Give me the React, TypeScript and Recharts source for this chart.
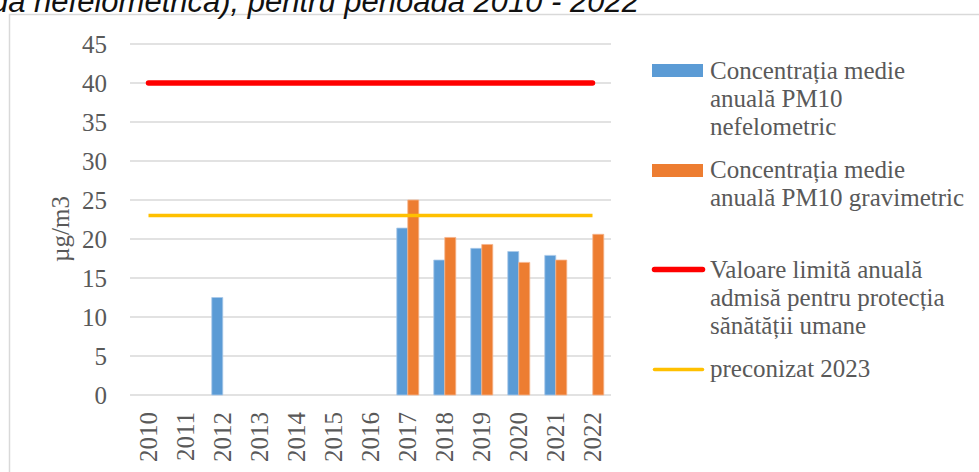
import React from 'react';
import { ComposedChart, Bar, Line, XAxis, YAxis, CartesianGrid } from 'recharts';

const years = ['2010', '2011', '2012', '2013', '2014', '2015', '2016', '2017', '2018', '2019', '2020', '2021', '2022'];
const nefelometric = [null, null, 12.5, null, null, null, null, 21.4, 17.3, 18.8, 18.4, 17.9, null];
const gravimetric = [null, null, null, null, null, null, null, 25.0, 20.2, 19.3, 17.0, 17.3, 20.6];
const limitValue = [40, 40, 40, 40, 40, 40, 40, 40, 40, 40, 40, 40, 40];
const forecast2023 = [23, 23, 23, 23, 23, 23, 23, 23, 23, 23, 23, 23, 23];
const yTicks = [0, 5, 10, 15, 20, 25, 30, 35, 40, 45];

const seriesNames = [
  'Concentrația medie anuală PM10 nefelometric',
  'Concentrația medie anuală PM10 gravimetric',
  'Valoare limită anuală admisă pentru protecția sănătății umane',
  'preconizat 2023',
];
const legendLines = [
  ['Concentrația medie', 'anuală PM10', 'nefelometric'],
  ['Concentrația medie', 'anuală PM10 gravimetric'],
  ['Valoare limită anuală', 'admisă pentru protecția', 'sănătății umane'],
  ['preconizat 2023'],
];
const yAxisTitle = 'µg/m3';
const titleText = 'metoda nefelometrică), pentru perioada 2010 - 2022';

const COLORS = { blue: '#5B9BD5', orange: '#ED7D31', red: '#FF0000', yellow: '#FFC000' };
const TEXT = '#595959';
const FONT = '"Liberation Serif", serif';

const data = years.map((year, i) => ({
  year,
  nef: nefelometric[i],
  grav: gravimetric[i],
  limit: limitValue[i],
  prec: forecast2023[i],
}));

const XTick = (props: any) => {
  const { x, y, payload } = props;
  return (
    <text
      x={x}
      y={y}
      transform={`rotate(-90 ${x} ${y})`}
      textAnchor="end"
      dominantBaseline="central"
      fill={TEXT}
      fontSize={25}
      fontFamily={FONT}
    >
      {payload.value}
    </text>
  );
};

const Legend = () => {
  const items = [
    { kind: 'rect', color: COLORS.blue, top: 64, base: 79 },
    { kind: 'rect', color: COLORS.orange, top: 164, base: 177.5 },
    { kind: 'line', color: COLORS.red, top: 269.5, base: 277.5, w: 5.5 },
    { kind: 'line', color: COLORS.yellow, top: 369.5, base: 376.5, w: 3.5 },
  ];
  return (
    <svg width={979} height={472} style={{ position: 'absolute', left: 0, top: 0, pointerEvents: 'none' }}>
      {items.map((it, i) => (
        <g key={seriesNames[i]}>
          {it.kind === 'rect' ? (
            <rect x={652} y={it.top} width={51} height={13} fill={it.color} />
          ) : (
            <line x1={654.5} x2={702.5} y1={it.top} y2={it.top} stroke={it.color} strokeWidth={it.w} strokeLinecap="round" />
          )}
          <text fill={TEXT} fontSize={25} fontFamily={FONT}>
            {legendLines[i].map((ln, j) => (
              <tspan key={j} x={710} y={it.base + j * 28}>
                {ln}
              </tspan>
            ))}
          </text>
        </g>
      ))}
    </svg>
  );
};

export default function App() {
  return (
    <div style={{ position: 'fixed', left: 0, top: 0, width: 979, height: 472, overflow: 'hidden', background: '#fff' }}>
      <svg width={979} height={472} style={{ position: 'absolute', left: 0, top: 0 }}>
        <rect x={9.5} y={14.5} width={1000} height={1000} fill="none" stroke="#D9D9D9" strokeWidth={1.5} />
        <text
          x={639}
          y={12}
          textAnchor="end"
          fontFamily='"Liberation Sans", Arial, sans-serif'
          fontStyle="italic"
          fontSize={31}
          fill="#111"
        >
          {titleText}
        </text>
        <text
          x={69}
          y={229}
          transform="rotate(-90 69 229)"
          textAnchor="middle"
          fill={TEXT}
          fontSize={25}
          fontFamily={FONT}
        >
          {yAxisTitle}
        </text>
      </svg>
      <div style={{ position: 'absolute', left: 0, top: 0 }}>
        <ComposedChart
          width={979}
          height={472}
          data={data}
          margin={{ top: 44, right: 368, bottom: 0, left: 0 }}
          barCategoryGap="21%"
          barGap={0}
        >
          <CartesianGrid vertical={false} stroke="#D9D9D9" strokeWidth={1.5} />
          <XAxis
            dataKey="year"
            height={77}
            axisLine={false}
            tickLine={false}
            tickSize={0}
            tickMargin={17}
            interval={0}
            tick={<XTick />}
          />
          <YAxis
            width={130}
            domain={[0, 45]}
            ticks={yTicks}
            axisLine={false}
            tickLine={false}
            tickSize={0}
            tickMargin={23}
            tick={{ fill: TEXT, fontSize: 25, fontFamily: FONT }}
          />
          <Bar dataKey="nef" name={seriesNames[0]} fill={COLORS.blue} stroke="#A9C9EA" strokeWidth={0.8} isAnimationActive={false} />
          <Bar dataKey="grav" name={seriesNames[1]} fill={COLORS.orange} stroke="#F6B48C" strokeWidth={0.8} isAnimationActive={false} />
          <Line
            dataKey="limit"
            name={seriesNames[2]}
            type="linear"
            stroke={COLORS.red}
            strokeWidth={5.5}
            strokeLinecap="round"
            dot={false}
            activeDot={false}
            isAnimationActive={false}
          />
          <Line
            dataKey="prec"
            name={seriesNames[3]}
            type="linear"
            stroke={COLORS.yellow}
            strokeWidth={3.5}
            dot={false}
            activeDot={false}
            isAnimationActive={false}
          />
        </ComposedChart>
      </div>
      <Legend />
    </div>
  );
}
